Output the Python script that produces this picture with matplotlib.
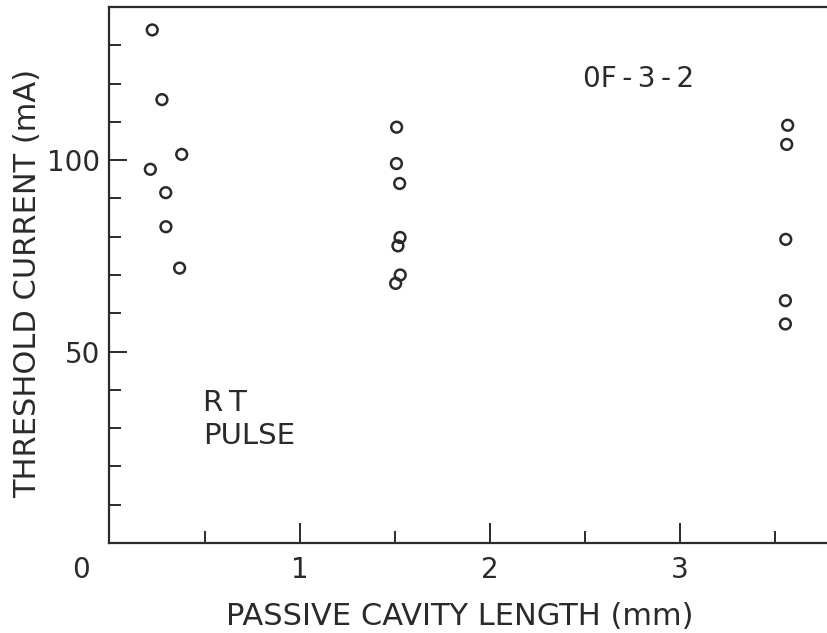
import matplotlib
matplotlib.use("Agg")
import matplotlib.pyplot as plt
from matplotlib.ticker import MultipleLocator

# Threshold current vs passive cavity length, device 0F-3-2
length_mm = [0.225, 0.276, 0.380, 0.215, 0.296, 0.297, 0.369,
             1.511, 1.510, 1.527, 1.529, 1.518, 1.530, 1.506,
             3.569, 3.564, 3.559, 3.557, 3.557]
threshold_mA = [134.0, 115.8, 101.5, 97.6, 91.5, 82.6, 71.8,
                108.6, 99.1, 93.9, 79.8, 77.6, 70.0, 67.8,
                109.1, 104.1, 79.3, 63.3, 57.2]

x_ticks = [1, 2, 3]
y_ticks = [50, 100]

ink = "#2a2a2a"
plt.rcParams["font.family"] = ["DejaVu Sans"]

fig = plt.figure(figsize=(8.27, 6.33), dpi=100)
ax = fig.add_axes([0.1324, 0.1422, 0.8676, 0.8468])

ax.scatter(length_mm, threshold_mA, s=60, facecolors="none",
           edgecolors=ink, linewidths=1.8, zorder=3)

ax.set_xlim(0, 3.776)
ax.set_ylim(0, 140)

for side in ("left", "bottom", "top"):
    ax.spines[side].set_linewidth(1.6)
    ax.spines[side].set_color(ink)
ax.spines["right"].set_visible(False)

ax.xaxis.set_minor_locator(MultipleLocator(0.5))
ax.yaxis.set_minor_locator(MultipleLocator(10))
ax.set_xticks(x_ticks)
ax.set_yticks(y_ticks)
ax.tick_params(axis="both", which="both", direction="in", color=ink,
               labelcolor=ink, labelsize=20, width=1.4, top=False, right=False)
ax.tick_params(axis="x", which="major", length=14.4, pad=9.4)
ax.tick_params(axis="x", which="minor", length=8.5)
ax.tick_params(axis="y", which="major", length=13, pad=6.8)
ax.tick_params(axis="y", which="minor", length=8.6)

# shared origin label at the corner
ax.text(-0.103, -3.4, "0", ha="right", va="top", fontsize=20, color=ink,
        clip_on=False)

ax.set_xlabel("PASSIVE CAVITY LENGTH (mm)", fontsize=22, color=ink)
ax.xaxis.set_label_coords(0.4885, -0.110)
ax.set_ylabel("THRESHOLD CURRENT (mA)", fontsize=22, color=ink)
ax.yaxis.set_label_coords(-0.094, 0.484)

ax.text(2.492, 119.0, "0F\u2009-\u20093\u2009-\u20092", fontsize=20,
        color=ink, va="baseline")
ax.text(0.492, 34.6, "R\u2009T", fontsize=21, color=ink, va="baseline")
ax.text(0.492, 25.8, "PULSE", fontsize=21, color=ink, va="baseline")

fig.savefig("out.png", dpi=100, facecolor="white")
